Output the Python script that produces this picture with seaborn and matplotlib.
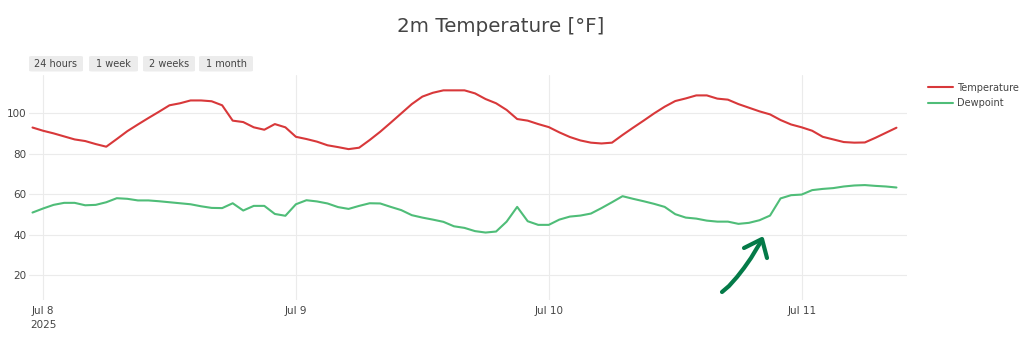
import numpy as np
import pandas as pd
import matplotlib
matplotlib.use("Agg")
import matplotlib.pyplot as plt
from matplotlib.lines import Line2D
from matplotlib.patches import FancyBboxPatch
import seaborn as sns

# Hourly 2 m temperature and dewpoint (°F), starting 2025-07-07 23:00
start_time = "2025-07-07 23:00"
temperature = [
    93.0, 91.4, 90.1, 88.6, 87.1, 86.3, 84.8, 83.5, 87.3, 91.2,
    94.5, 97.7, 100.8, 104.0, 105.0, 106.4, 106.4, 106.0, 104.0, 96.4,
    95.7, 93.1, 91.9, 94.7, 93.1, 88.4, 87.3, 86.0, 84.2, 83.3,
    82.3, 83.0, 86.8, 90.9, 95.4, 100.0, 104.6, 108.3, 110.2, 111.4,
    111.4, 111.4, 109.9, 107.1, 105.0, 101.7, 97.2, 96.4, 94.7, 93.2,
    90.6, 88.3, 86.6, 85.5, 85.1, 85.5, 89.3, 92.9, 96.4, 100.0,
    103.3, 106.1, 107.4, 108.9, 108.9, 107.3, 106.8, 104.6, 102.8, 101.0,
    99.5, 96.7, 94.5, 93.1, 91.4, 88.4, 87.1, 85.8, 85.5, 85.6,
    87.9, 90.4, 92.9,
]
dewpoint = [
    50.9, 52.9, 54.7, 55.7, 55.7, 54.5, 54.7, 56.0, 58.0, 57.7,
    56.9, 56.9, 56.5, 56.0, 55.5, 55.0, 54.0, 53.2, 53.1, 55.5,
    51.9, 54.2, 54.2, 50.2, 49.3, 55.0, 57.0, 56.4, 55.4, 53.6,
    52.7, 54.2, 55.5, 55.4, 53.7, 52.1, 49.6, 48.4, 47.4, 46.3,
    44.1, 43.3, 41.7, 41.0, 41.5, 46.4, 53.7, 46.6, 44.8, 44.8,
    47.4, 48.9, 49.4, 50.4, 53.1, 56.0, 59.0, 57.7, 56.5, 55.2,
    53.7, 50.1, 48.4, 47.9, 46.9, 46.4, 46.4, 45.3, 45.8, 47.1,
    49.4, 57.9, 59.5, 59.8, 62.0, 62.6, 63.0, 63.8, 64.3, 64.5,
    64.1, 63.8, 63.3,
]
series_names = ["Temperature", "Dewpoint"]
series_colors = {"Temperature": "#d8383a", "Dewpoint": "#4fbd78"}
y_ticks = [20, 40, 60, 80, 100]
x_tick_dates = ["2025-07-08", "2025-07-09", "2025-07-10", "2025-07-11"]
x_tick_labels = ["Jul 8\n2025", "Jul 9", "Jul 10", "Jul 11"]
range_buttons = ["24 hours", "1 week", "2 weeks", "1 month"]

times = pd.date_range(start_time, periods=len(temperature), freq="h")
df = pd.DataFrame({
    "time": np.concatenate([times, times]),
    "value": temperature + dewpoint,
    "series": ["Temperature"] * len(temperature) + ["Dewpoint"] * len(dewpoint),
})

sns.set_theme(style="white")
plt.rcParams["font.family"] = ["DejaVu Sans"]

W, H = 1024, 342
fig = plt.figure(figsize=(W / 100, H / 100), dpi=100)
ax = fig.add_axes([29 / W, (H - 300) / H, 878 / W, 225 / H])

sns.lineplot(data=df, x="time", y="value", hue="series", hue_order=series_names,
             palette=series_colors, linewidth=1.5, legend=False, ax=ax)

ax.set_xlim(pd.Timestamp("2025-07-07 22:40"), pd.Timestamp("2025-07-11 10:00"))
ax.set_ylim(7.6, 119)
ax.set_yticks(y_ticks)
ax.set_yticklabels([str(v) for v in y_ticks])
ax.set_xticks(pd.to_datetime(x_tick_dates))
ax.set_xticklabels(x_tick_labels, ha="center", linespacing=1.6)
ax.set_xlabel("")
ax.set_ylabel("")
ax.grid(True, color="#ebebeb", linewidth=0.8)
ax.set_axisbelow(True)
for s in ax.spines.values():
    s.set_visible(False)
ax.tick_params(axis="both", length=0, labelsize=7.5, colors="#444444")
ax.tick_params(axis="y", pad=2)
ax.tick_params(axis="x", pad=4)
for lbl in ax.get_xticklabels():
    lbl.set_verticalalignment("top")

# Title
fig.text(501 / W, 1 - 27 / H, "2m Temperature [°F]", ha="center", va="center",
         fontsize=14.3, color="#444444")

# Range selector buttons
btn_spans = [(29, 83), (89, 138), (143, 195), (199, 253)]
for label, (x0, x1) in zip(range_buttons, btn_spans):
    box = FancyBboxPatch((x0 / W, 1 - 71.5 / H), (x1 - x0) / W, 15.5 / H,
                         boxstyle="round,pad=0,rounding_size=0.003",
                         transform=fig.transFigure, facecolor="#ececec",
                         edgecolor="none")
    fig.add_artist(box)
    fig.text((x0 + x1) / 2 / W, 1 - 63.7 / H, label, ha="center", va="center",
             fontsize=7, color="#444444")

# Legend
handles = [Line2D([0], [0], color=series_colors[n], lw=1.5) for n in series_names]
fig.legend(handles, series_names, loc="upper left",
           bbox_to_anchor=(924 / W, 1 - 79 / H), frameon=False,
           fontsize=7, labelcolor="#444444", handlelength=2.6,
           handletextpad=0.4, labelspacing=0.55, borderaxespad=0)

# Hand-drawn arrow pointing at the dewpoint rise
arrow_color = "#047a48"
shaft_x = [722, 729, 737, 744, 751, 757, 762]
shaft_y = [292, 286, 277, 268, 258, 248, 240]
fig.add_artist(Line2D([x / W for x in shaft_x], [1 - y / H for y in shaft_y],
                      transform=fig.transFigure, color=arrow_color, lw=3.0,
                      solid_capstyle="round", solid_joinstyle="round"))
head_x = [744, 762, 767]
head_y = [248, 239, 258]
fig.add_artist(Line2D([x / W for x in head_x], [1 - y / H for y in head_y],
                      transform=fig.transFigure, color=arrow_color, lw=3.0,
                      solid_capstyle="round", solid_joinstyle="round"))

fig.savefig("out.png", dpi=100, facecolor="white")
